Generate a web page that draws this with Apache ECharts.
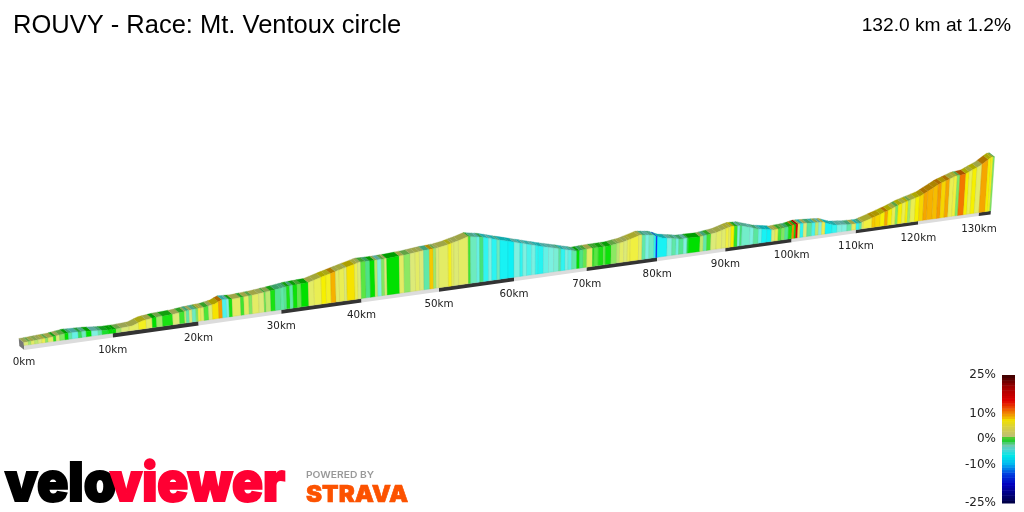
<!DOCTYPE html>
<html>
<head>
<meta charset="utf-8">
<style>
  html, body { margin: 0; padding: 0; background: #fff; }
  #main { width: 1024px; height: 512px; }
</style>
<script src="https://cdn.jsdelivr.net/npm/echarts@6/dist/echarts.min.js"></script>
</head>
<body>
<div id="main"></div>
<script>
// elevation (km along the route, metres)
const profileKm = [0, 1.8, 3.2, 4.8, 7.1, 9.3, 10.6, 12.3, 13.5, 15.2, 17.2, 18.8, 20.8, 22, 22.9, 24.4, 26.8, 28.9, 30.9, 33.5,
    35.2, 37.3, 39.8, 41.5, 43.6, 45.8, 47.9, 49.8, 51.1, 52.6, 53.9, 55.7, 57.9, 60.6, 63.4, 66.2, 68.5, 70.1, 73.2, 75,
    77.5, 79.3, 80.7, 83.3, 86.2, 88.7, 90.7, 92.2, 94.7, 97.2, 99.4, 100.8, 102.8, 104.8, 106.4, 108.6, 110.6, 112.7, 115, 117,
    120.2, 123.1, 125.7, 127.3, 129.7, 131.5, 132];
const profileElev = [75, 95, 113, 160, 140, 95, 95, 118, 210, 251, 270, 310, 337, 387, 471, 450, 487, 533, 591, 620,
    722, 840, 974, 971, 983, 1014, 1063, 1088, 1134, 1210, 1287, 1220, 1089, 933, 767, 617, 490, 506, 514, 561,
    702, 653, 531, 433, 420, 483, 595, 584, 420, 328, 350, 406, 384, 352, 232, 185, 173, 297, 439, 588,
    757, 1044, 1216, 1247, 1447, 1663, 1665];

// coloured bands: where each one starts (km) and its gradient (%)
const stripeKm = [
    0, .5, .8, 1.2, 1.6, 2, 2.4, 2.7, 3.3, 3.6, 4, 4.6, 5, 5.4, 6.1, 6.5, 7, 7.6, 8.35, 8.8, 9.5,
    10, 10.4, 11, 11.9, 13, 13.9, 14.6, 15.1, 15.8, 17, 17.8, 18.4, 18.6, 18.95, 19.3, 19.75,
    20, 20.3, 20.7, 21.25, 21.7, 22.45, 22.9, 23.4, 23.7, 24.1, 25.1, 25.5, 26.1, 26.5, 27.3, 27.95, 28.15, 28.75, 29.3,
    30, 30.4, 30.7, 31.1, 31.5, 32, 32.5, 33.4, 34.1, 35, 35.6, 36.2, 36.8, 37.25, 37.9, 38.2, 39.2, 39.6,
    40, 40.6, 41.15, 41.75, 42.1, 42.6, 43, 43.3, 44.9, 45.5, 46.3, 46.95, 47.5, 48.05, 48.8, 49.3, 49.65,
    50, 51.25, 51.7, 52, 52.6, 53.9, 54.2, 55, 55.4, 55.9, 56.6, 57, 57.7, 58.1, 59.2,
    60, 60.8, 61.2, 61.7, 62.4, 62.9, 63.3, 64, 64.7, 65.4, 66.1, 66.4, 67, 67.4, 67.9, 68.6, 69, 69.5,
    70, 70.8, 71, 71.6, 72.3, 72.6, 73.4, 74.2, 74.6, 75.2, 75.7, 76.1, 77.3, 77.8, 78.3, 78.8, 79.5, 79.8,
    80, 81.4, 82.1, 82.7, 83.1, 83.8, 84.3, 84.5, 86.2, 86.7, 87.2, 87.8, 88.6, 89.4,
    90, 90.45, 90.75, 91.25, 91.75, 92.1, 92.4, 93.6, 94.15, 94.9, 95.4, 96.15, 96.9, 97.4, 97.9, 98.4, 98.9, 99.45,
    100, 100.35, 100.6, 100.9, 101.25, 101.75, 102.3, 103.05, 103.6, 104.1, 104.6, 105.15, 106.2, 107, 107.75, 108.55, 109.3,
    110, 110.5, 110.9, 111.15, 112.5, 113, 113.8, 114.5, 115, 115.65, 116.2, 116.6, 117.25, 117.8, 118.2, 118.6, 119.35,
    120, 120.7, 121.3, 122.2, 122.95, 123.5, 124.2, 124.8, 125.45, 126, 126.45, 127.4, 127.95, 128.5, 129.2, 130, 131, 131.45, 131.8];
const stripeGrade = [
    2.5, 1.5, 3, 2, 2.5, 3.5, 1.2, 3, .3, 2.5, 1, 0, -1, -2, -.4, -1.2, 0, -1.5, -1, -.2, 0,
    0, 1.5, 2.5, 3, 4.5, 3, 0, 1.5, .2, 2.5, .5, 2.2, -1, 2.5, -1.2, 1,
    4, 3, .6, 2.5, 5.5, 8.5, -2.5, -1.5, .2, 3, .5, 3, 1, 3, 2.5, .8, 2, .2, -.8,
    -1, -.8, .2, -1, .1, .8, 0, 3, 3.5, 5, 4.5, 7.5, 3, 3.5, 2.5, 5.5, 3.5, 2.5,
    .7, -.7, 0, 2, -1.5, 1, 2.5, 0, 3, 1.2, 2.5, 3, 2.5, -1, 6.5, 1.5, 2.5,
    3, 4.5, 3, 2.6, 3, .5, -1.2, -2, -.6, -3, -1.5, -3.2, -1.2, -4, -4.5,
    -1.5, -3, -1.5, -2.5, -1.6, -3, -3.5, -2, -1.6, -1.4, -.9, -3, -1.6, -2.2, -1, 0, -.7, .8,
    3, .3, .7, .2, .8, .1, 1.2, 2, 3, 2.5, 3.5, 4, 3, -1, -1.6, -1.2, -3, -12,
    -4, -1.5, -1, -1.8, -.8, -1.5, -.4, 0, 2, -1, .5, 2.5, 3, 2.8,
    4, 3, 5, .4, -1.5, -.6, -1.3, -1.6, -.9, -2, -4, -4.5, 2.5, 3.5, .6, 1, -.8, .2,
    9, 0, 14, 3, -3, 2.5, -.9, -2.5, 2, -1.5, 3.5, -4, -3, -1.5, -1.5, -1, 3,
    -3, -1, 3, 4, 6.5, 6, 5, 8, 5, 3.5, 1, 5, 3.5, 5, 1.5, 3.5, 5,
    6, 8, 7.5, 7, 8.5, 6, 8, 3.5, 4, 1, 10, 5, 3.5, 5, 3, 8, 5, 4.5, 1];

const totalKm = 132;
const kmTicks = [0, 10, 20, 30, 40, 50, 60, 70, 80, 90, 100, 110, 120, 130];
const legendTicks = [25, 10, 0, -10, -25];
const legendGrades = [-25, -24, -23, -22, -21, -20, -19, -18, -17, -16, -15, -14, -13, -12, -11, -10, -9, -8, -7, -6, -5, -4, -3, -2, -1,
    0, 1, 2, 3, 4, 5, 6, 7, 8, 9, 10, 11, 12, 13, 14, 15, 16, 17, 18, 19, 20, 21, 22, 23, 24];

// colour ramps, gradient % -> colour
const faceStops = [[-25, '#000050'], [-12, '#0030ff'], [-8, '#00b8ff'], [-5, '#00f0f8'], [-3, '#30f4f0'], [-1.5, '#80f0e0'],
    [-.5, '#40e070'], [0, '#00e000'], [1, '#80e860'], [2.5, '#dcea78'], [4, '#f0f040'], [5, '#f6f000'], [6.5, '#f6c800'],
    [8.5, '#f59a00'], [11, '#f06000'], [14, '#e00000'], [25, '#400000']];
const legendStops = [[-25, '#000040'], [-17.5, '#0000c0'], [-13.5, '#0040e0'], [-9.6, '#00b8f0'], [-6.3, '#00e8e8'], [-4.4, '#40d8d8'],
    [-2.4, '#70c8b0'], [0, '#10d010'], [1.5, '#c0c070'], [4.8, '#d8d040'], [7.4, '#f0e000'], [9, '#f0a800'], [11, '#f07000'],
    [15, '#e00000'], [20.4, '#a00000'], [25, '#3a0000']];

function hexRgb(hex) {
    return [1, 3, 5].map(i => parseInt(hex.slice(i, i + 2), 16));
}

function rampColor(stops, grade, shade) {
    let a = stops[0], b = stops[stops.length - 1];
    for (let i = 0; i < stops.length - 1; i++) {
        if (grade >= stops[i][0] && grade <= stops[i + 1][0]) {
            a = stops[i];
            b = stops[i + 1];
            break;
        }
    }
    const t = (grade - a[0]) / (b[0] - a[0] || 1);
    const ca = hexRgb(a[1]), cb = hexRgb(b[1]);
    const rgb = ca.map((c, i) => Math.round((c + (cb[i] - c) * t) * shade));
    return `rgb(${rgb.join(',')})`;
}

// the ride is drawn in perspective, it runs away up and to the right
const PERSPECTIVE = 0.001766;
const RISE = 31.45;       // metres the road climbs on screen per km
const LEAN = 0.00014;     // verticals fan out from the middle of the page
const BACK_X = -5, BACK_Y = -4;
const ROAD_DROP = -110;

function project(km, elev) {
    const s = 1 / (1 + PERSPECTIVE * km);
    return [km * s, (elev + RISE * km) * s];
}

function elevAt(km) {
    for (let i = 0; i < profileKm.length - 1; i++) {
        if (km <= profileKm[i + 1]) {
            const t = (km - profileKm[i]) / (profileKm[i + 1] - profileKm[i]);
            return profileElev[i] + (profileElev[i + 1] - profileElev[i]) * t;
        }
    }
    return profileElev[profileElev.length - 1];
}

function screenPoint(api, km, elev) {
    const pos = api.coord(project(km, elev));
    const foot = api.coord(project(km, 0));
    return [pos[0] + (pos[0] - 512) * LEAN * (foot[1] - pos[1]), pos[1]];
}

function ridge(api, km0, km1) {
    const kms = [km0];
    profileKm.forEach(k => {
        if (k > km0 && k < km1) kms.push(k);
    });
    kms.push(km1);
    return kms.map(k => screenPoint(api, k, elevAt(k)));
}

function renderFront(params, api) {
    const km0 = api.value(0), km1 = api.value(1);
    const grade = api.value(2);
    const points = [screenPoint(api, km0, 0), screenPoint(api, km1, 0)].concat(ridge(api, km0, km1).reverse());
    return {type: 'polygon', shape: {points: points}, style: {fill: rampColor(faceStops, grade, 1), stroke: rampColor(faceStops, grade, 0.86), lineWidth: 0.4}};
}

function renderTop(params, api) {
    const km0 = api.value(0), km1 = api.value(1);
    const color = rampColor(faceStops, api.value(2), 0.7);
    const front = ridge(api, km0, km1);
    const back = front.map(p => [p[0] + BACK_X, p[1] + BACK_Y]).reverse();
    return {type: 'polygon', shape: {points: front.concat(back)}, style: {fill: color, stroke: color, lineWidth: 0.3}};
}

function renderRoad(params, api) {
    const km0 = api.value(0), km1 = api.value(1);
    const points = [screenPoint(api, km0, 0), screenPoint(api, km1, 0), screenPoint(api, km1, ROAD_DROP), screenPoint(api, km0, ROAD_DROP)];
    return {type: 'polygon', shape: {points: points}, style: {fill: api.value(2) % 2 ? '#333333' : '#dcdcdc'}};
}

function renderStartCap(params, api) {
    const top = screenPoint(api, 0, elevAt(0));
    const low = screenPoint(api, 0, ROAD_DROP);
    const points = [low, top, [top[0] + BACK_X, top[1] + BACK_Y], [low[0] + BACK_X, low[1] + BACK_Y]];
    return {type: 'polygon', shape: {points: points}, style: {fill: '#777777'}};
}

function renderKmLabel(params, api) {
    const km = api.value(0);
    const p = screenPoint(api, km, 0);
    return {
        type: 'text',
        style: {
            x: p[0], y: p[1] + 17, text: km + 'km', textAlign: 'center', textVerticalAlign: 'middle',
            fontFamily: 'DejaVu Sans', fontSize: 10.3, fill: '#222222'
        }
    };
}

function renderLegendCell(params, api) {
    const grade = api.value(0);
    const a = api.coord([0, grade]);
    const b = api.coord([1, grade + 1]);
    return {type: 'rect', shape: {x: a[0], y: b[1], width: b[0] - a[0], height: a[1] - b[1] + 0.5}, style: {fill: rampColor(legendStops, grade + 0.5, 1)}};
}

const stripeData = stripeKm.map((km, i) => [km, i + 1 < stripeKm.length ? stripeKm[i + 1] : totalKm, stripeGrade[i]]);
const roadData = kmTicks.map((km, i) => [km, i + 1 < kmTicks.length ? kmTicks[i + 1] : totalKm, i]);

var myChart = echarts.init(document.getElementById('main'));

var option = {
    animation: false,
    backgroundColor: '#ffffff',
    title: [
        {text: 'ROUVY - Race: Mt. Ventoux circle', left: 8, top: 8, textStyle: {fontFamily: 'Liberation Sans', fontWeight: 'normal', fontSize: 25.5, color: '#000'}},
        {text: '132.0 km at 1.2%', right: 8, top: 11, textStyle: {fontFamily: 'Liberation Sans', fontWeight: 'normal', fontSize: 19.2, color: '#000'}}
    ],
    grid: [
        {left: 24, width: 966.9, top: 100, height: 245.5},
        {left: 1002, width: 13, top: 375, height: 128}
    ],
    xAxis: [
        {gridIndex: 0, type: 'value', min: 0, max: 107.05, show: false},
        {gridIndex: 1, type: 'value', min: 0, max: 1, show: false}
    ],
    yAxis: [
        {gridIndex: 0, type: 'value', min: 0, max: 6137.5, show: false},
        {
            gridIndex: 1, type: 'value', min: -25, max: 25, position: 'left',
            axisLine: {show: false}, axisTick: {show: false}, splitLine: {show: false},
            axisLabel: {customValues: legendTicks, formatter: '{value}%', margin: 6, padding: [4, 0, 0, 0], fontFamily: 'DejaVu Sans', fontSize: 12, color: '#222'}
        }
    ],
    series: [
        {type: 'custom', name: 'start', coordinateSystem: 'cartesian2d', data: [[0]], renderItem: renderStartCap, silent: true, z: 1},
        {type: 'custom', name: 'top', data: stripeData, renderItem: renderTop, silent: true, z: 2},
        {type: 'custom', name: 'road', data: roadData, renderItem: renderRoad, silent: true, z: 3},
        {type: 'custom', name: 'front', data: stripeData, renderItem: renderFront, silent: true, z: 4},
        {type: 'custom', name: 'km', data: kmTicks.map(km => [km]), renderItem: renderKmLabel, silent: true, z: 5},
        {type: 'custom', name: 'legend', xAxisIndex: 1, yAxisIndex: 1, data: legendGrades.map(g => [g]), renderItem: renderLegendCell, silent: true, z: 5}
    ],
    graphic: [
        {type: 'text', x: 5, y: 512, scaleX: 0.96, style: {text: 'velo', textVerticalAlign: 'bottom', fontFamily: 'Inter', fontWeight: 900, fontSize: 54, fill: '#000', stroke: '#000', lineWidth: 2}},
        {type: 'text', x: 110, y: 512, scaleX: 0.945, style: {text: 'viewer', textVerticalAlign: 'bottom', fontFamily: 'Inter', fontWeight: 900, fontSize: 54, fill: '#ff0033', stroke: '#ff0033', lineWidth: 2}},
        {type: 'text', x: 306, y: 480, scaleX: 1.08, style: {text: 'POWERED BY', textVerticalAlign: 'bottom', fontFamily: 'Inter', fontWeight: 600, fontSize: 9.5, fill: '#999999'}},
        {type: 'text', x: 306, y: 507, scaleX: 1.05, style: {text: 'STRAVA', textVerticalAlign: 'bottom', fontFamily: 'Inter', fontWeight: 900, fontSize: 23, fill: '#fc5200', stroke: '#fc5200', lineWidth: 0.6}}
    ]
};
myChart.setOption(option);
</script>
</body>
</html>
